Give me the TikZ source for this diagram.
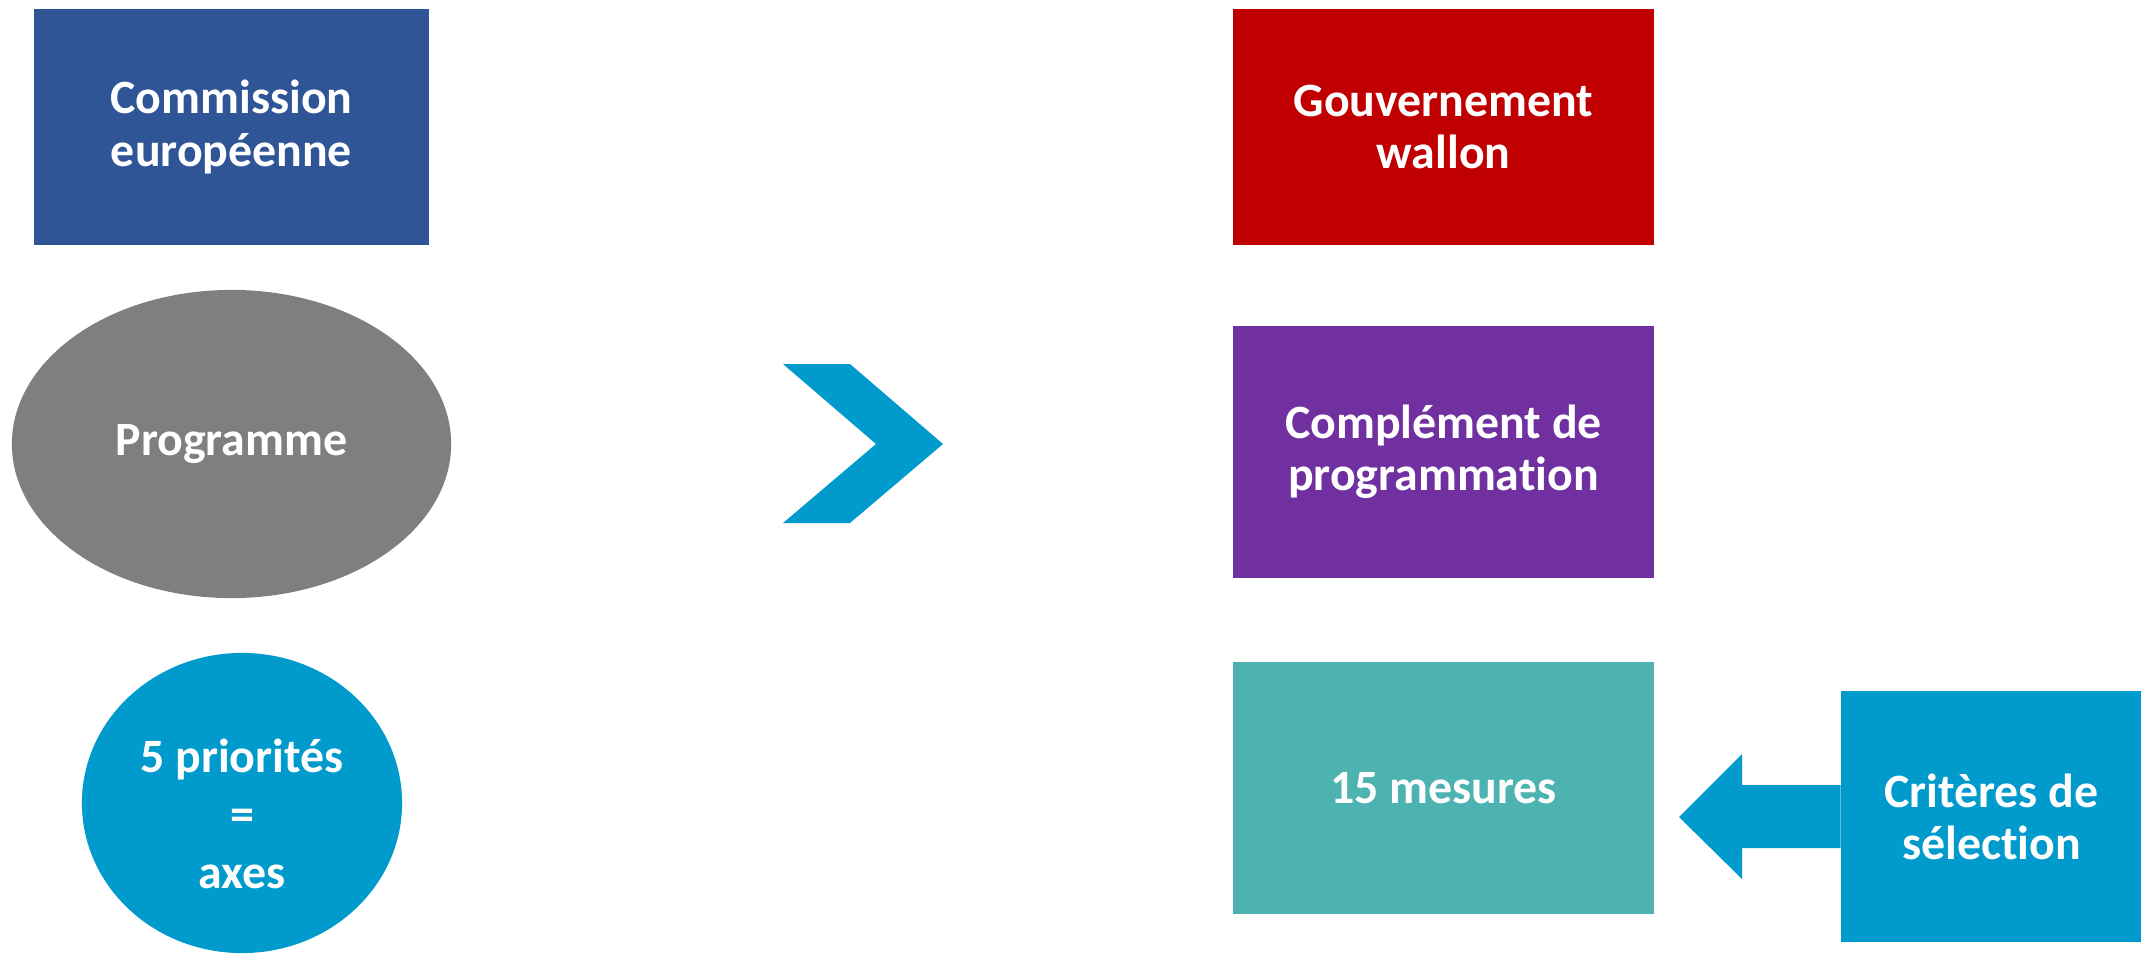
\documentclass[tikz,border=0pt]{standalone}
\usepackage{fontspec}
\setmainfont{Carlito}[Ligatures={NoCommon}]
\usetikzlibrary{shapes.geometric}
\definecolor{ceblue}{HTML}{2F5597}
\definecolor{pgray}{HTML}{7F7F7F}
\definecolor{cyanb}{HTML}{009BCC}
\definecolor{gwred}{HTML}{C00000}
\definecolor{cpurple}{HTML}{7030A0}
\definecolor{mteal}{HTML}{4DB3B1}
\tikzset{
  box/.style={rectangle, inner sep=0pt, text=white, align=center,
    font=\bfseries\fontsize{13.6}{14.8}\selectfont},
  oval/.style={ellipse, inner sep=0pt, text=white, align=center,
    font=\bfseries\fontsize{13.6}{14.8}\selectfont},
  label text/.style={inner sep=0pt, text=white, align=center,
    font=\bfseries\fontsize{13.6}{16.4}\selectfont}
}
\begin{document}
\begin{tikzpicture}[x=0.01cm,y=-0.01cm]
\useasboundingbox (0,0) rectangle (2141,954);
% left column
\node[box, fill=ceblue, minimum width=3.95cm, minimum height=2.36cm] (ce) at (231.5,127) {Commission\\europ\'eenne};
\node[oval, fill=pgray, minimum width=4.39cm, minimum height=3.08cm] (prog) at (231.5,444) {Programme};
\node[oval, fill=cyanb, minimum width=3.20cm, minimum height=3.00cm] (prio) at (242,803) {};
\node[label text] (priotxt) at (242,814) {5 priorit\'es\\=\\axes};
% chevron
\fill[cyanb] (783,364) -- (850,364) -- (943,444) -- (850,523) -- (783,523) -- (876,444) -- cycle;
% right column
\node[box, fill=gwred, minimum width=4.21cm, minimum height=2.36cm] (gw) at (1443.5,127) {Gouvernement\\wallon};
\node[box, fill=cpurple, minimum width=4.21cm, minimum height=2.52cm] (cp) at (1443.5,452) {Compl\'ement de\\programmation};
\node[box, fill=mteal, minimum width=4.21cm, minimum height=2.52cm] (mes) at (1443.5,788) {15 mesures};
\node[box, fill=cyanb, minimum width=3.00cm, minimum height=2.51cm] (crit) at (1991.5,816.5) {Crit\`eres de\\s\'election};
% arrow from crit to mes
\fill[cyanb] (crit.west |- 0,785) -- (1742,785) -- (1742,754) -- (1679,817) -- (1742,879) -- (1742,848) -- (crit.west |- 0,848) -- cycle;
\end{tikzpicture}
\end{document}
